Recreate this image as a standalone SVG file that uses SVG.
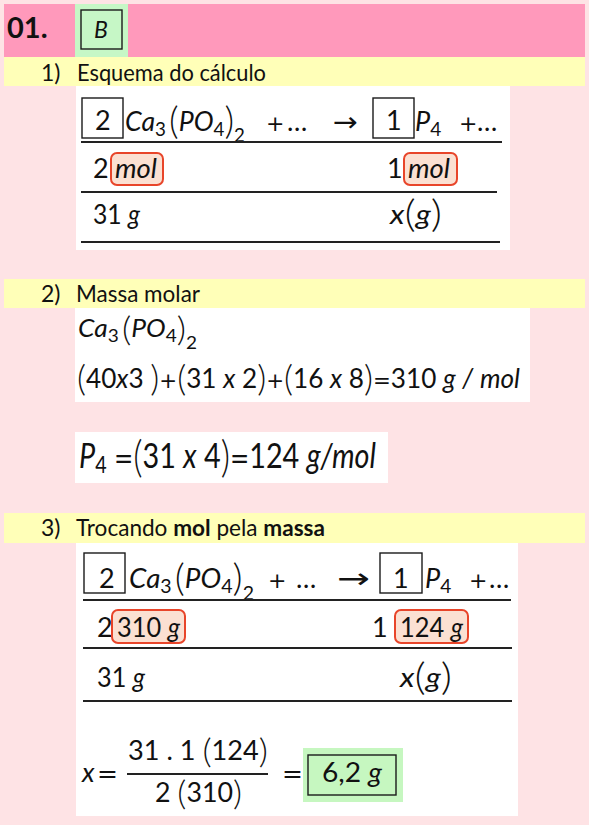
<svg xmlns="http://www.w3.org/2000/svg" width="589" height="825" viewBox="0 0 589 825">
<style>
.t{font-family:Lato,"Liberation Sans",sans-serif;fill:#111}
.h{font-size:23px}
.m{font-size:27px}
.i{font-style:italic}
.b{font-weight:bold}
.s{font-size:19px}
.p{font-size:38px;font-weight:300}
.l{font-weight:300}
.sym{font-family:"DejaVu Sans",sans-serif;font-style:normal}
.bx{fill:none;stroke:#1a1a1a;stroke-width:1.4}
.hl{fill:#FBE0D2;stroke:#E8452A;stroke-width:2}
.rule{stroke:#222;stroke-width:2}
.yel{fill:#FFFFB8}
.wh{fill:#FFFFFF}
</style>
<rect width="589" height="825" fill="#FEE3E5"/>

<g id="header">
<rect x="4" y="4" width="581" height="53" fill="#FF99BB"/>
<rect x="75" y="4" width="53" height="53" fill="#C6F7C6"/>
<rect class="bx" x="81" y="10" width="41" height="39"/>
<text class="t b" x="7" y="38" font-size="29">01.</text>
<text class="t i" x="94" y="38" font-size="23">B</text>
</g>

<g id="step1">
<rect class="yel" x="4" y="57" width="581" height="29"/>
<text class="t h" x="41" y="81">1)</text>
<text class="t h" x="77" y="81" textLength="189" lengthAdjust="spacingAndGlyphs">Esquema do cálculo</text>
<rect class="wh" x="76" y="86" width="434" height="164"/>
<rect class="bx" x="82" y="98" width="41" height="40"/>
<text class="t m" x="95" y="130">2</text>
<text class="t m" x="125" y="131" textLength="120" lengthAdjust="spacingAndGlyphs"><tspan class="i">Ca</tspan><tspan class="s" dy="5">3</tspan><tspan class="p" dy="-2" dx="3">(</tspan><tspan class="i" dy="-3">PO</tspan><tspan class="s" dy="5">4</tspan><tspan class="p" dy="-2">)</tspan><tspan class="s" dy="8">2</tspan></text>
<text class="t sym" x="266" y="131" font-size="22">+</text>
<text class="t m" x="287" y="131">…</text>
<text class="t sym" x="333" y="131" font-size="27" textLength="25" lengthAdjust="spacingAndGlyphs">→</text>
<rect class="bx" x="373" y="98" width="41" height="40"/>
<text class="t m" x="386" y="130">1</text>
<text class="t m" x="415" y="131"><tspan class="i">P</tspan><tspan class="s" dy="5">4</tspan></text>
<text class="t sym" x="459" y="131" font-size="22">+</text>
<text class="t m" x="477" y="131">…</text>
<line class="rule" x1="81" y1="142" x2="502" y2="142"/>
<text class="t m" x="93" y="178">2</text>
<rect class="hl" x="111" y="153" width="52" height="32" rx="6"/>
<text class="t m i" x="115" y="178" textLength="42" lengthAdjust="spacingAndGlyphs">mol</text>
<text class="t m" x="387" y="178">1</text>
<rect class="hl" x="404" y="153" width="53" height="32" rx="6"/>
<text class="t m i" x="408" y="178" textLength="42" lengthAdjust="spacingAndGlyphs">mol</text>
<line class="rule" x1="81" y1="192" x2="497" y2="192"/>
<text class="t m" x="93" y="224" textLength="47" lengthAdjust="spacingAndGlyphs">31 <tspan class="i">g</tspan></text>
<text class="t m" x="390" y="224" textLength="52" lengthAdjust="spacingAndGlyphs"><tspan class="i">x</tspan><tspan class="p" dy="3">(</tspan><tspan class="i" dy="-3">g</tspan><tspan class="p" dy="3">)</tspan></text>
<line class="rule" x1="81" y1="242" x2="500" y2="242"/>
</g>

<g id="step2">
<rect class="yel" x="4" y="279" width="581" height="29"/>
<text class="t h" x="41" y="302">2)</text>
<text class="t h" x="76" y="302" textLength="124" lengthAdjust="spacingAndGlyphs">Massa molar</text>
<rect class="wh" x="75" y="308" width="455" height="94"/>
<text class="t" x="78" y="337" font-size="25" textLength="119" lengthAdjust="spacingAndGlyphs"><tspan class="i">Ca</tspan><tspan font-size="18" dy="5">3</tspan><tspan class="l" font-size="34" dy="-1" dx="3">(</tspan><tspan class="i" dy="-4">PO</tspan><tspan font-size="18" dy="5">4</tspan><tspan class="l" font-size="34" dy="-1">)</tspan><tspan font-size="18" dy="8">2</tspan></text>
<text class="t" x="77" y="388" font-size="27" textLength="443" lengthAdjust="spacingAndGlyphs"><tspan class="l" font-size="36" dy="3">(</tspan><tspan dy="-3">40</tspan><tspan class="i">x</tspan>3 <tspan class="l" font-size="36" dy="3">)</tspan><tspan class="sym" font-size="22" dy="-3">+</tspan><tspan class="l" font-size="36" dy="3">(</tspan><tspan dy="-3">31 </tspan><tspan class="i">x</tspan> 2<tspan class="l" font-size="36" dy="3">)</tspan><tspan class="sym" font-size="22" dy="-3">+</tspan><tspan class="l" font-size="36" dy="3">(</tspan><tspan dy="-3">16 </tspan><tspan class="i">x</tspan> 8<tspan class="l" font-size="36" dy="3">)</tspan><tspan class="sym" font-size="22" dy="-3">=</tspan>310 <tspan class="i">g</tspan> <tspan class="i">/</tspan> <tspan class="i">mol</tspan></text>
<rect class="wh" x="75" y="432" width="313" height="51"/>
<text class="t" x="79" y="468" font-size="35" textLength="297" lengthAdjust="spacingAndGlyphs"><tspan class="i">P</tspan><tspan font-size="24" dy="5">4</tspan><tspan class="sym" font-size="28" dy="-5"> =</tspan><tspan class="l" font-size="44" dy="4">(</tspan><tspan dy="-4">31 </tspan><tspan class="i">x</tspan> 4<tspan class="l" font-size="44" dy="4">)</tspan><tspan class="sym" font-size="28" dy="-4">=</tspan>124 <tspan class="i">g</tspan><tspan class="i">/</tspan><tspan class="i">mol</tspan></text>
</g>

<g id="step3">
<rect class="yel" x="4" y="513" width="581" height="30"/>
<text class="t h" x="41" y="536">3)</text>
<text class="t h" x="76" y="536" textLength="249" lengthAdjust="spacingAndGlyphs">Trocando <tspan class="b">mol</tspan> pela <tspan class="b">massa</tspan></text>
<rect class="wh" x="76" y="543" width="442" height="273"/>
<rect class="bx" x="84" y="553" width="41" height="40"/>
<text class="t m" x="99" y="588">2</text>
<text class="t m" x="129" y="588" textLength="125" lengthAdjust="spacingAndGlyphs"><tspan class="i">Ca</tspan><tspan class="s" dy="5">3</tspan><tspan class="p" dy="-2" dx="3">(</tspan><tspan class="i" dy="-3">PO</tspan><tspan class="s" dy="5">4</tspan><tspan class="p" dy="-2">)</tspan><tspan class="s" dy="9">2</tspan></text>
<text class="t sym" x="268" y="588" font-size="22">+</text>
<text class="t m" x="296" y="588">…</text>
<text class="t sym" x="337" y="588" font-size="28" textLength="33" lengthAdjust="spacingAndGlyphs">→</text>
<rect class="bx" x="380" y="553" width="42" height="40"/>
<text class="t m" x="393" y="588">1</text>
<text class="t m" x="425" y="588"><tspan class="i">P</tspan><tspan class="s" dy="5">4</tspan></text>
<text class="t sym" x="469" y="588" font-size="22">+</text>
<text class="t m" x="489" y="588">…</text>
<line class="rule" x1="83" y1="600" x2="511" y2="600"/>
<text class="t m" x="97" y="637">2</text>
<rect class="hl" x="112" y="610" width="73" height="33" rx="6"/>
<text class="t m" x="117" y="637" textLength="63" lengthAdjust="spacingAndGlyphs">310 <tspan class="i">g</tspan></text>
<text class="t m" x="372" y="637">1</text>
<rect class="hl" x="395" y="610" width="73" height="33" rx="6"/>
<text class="t m" x="400" y="637" textLength="63" lengthAdjust="spacingAndGlyphs">124 <tspan class="i">g</tspan></text>
<line class="rule" x1="83" y1="648" x2="512" y2="648"/>
<text class="t m" x="97" y="687" textLength="48" lengthAdjust="spacingAndGlyphs">31 <tspan class="i">g</tspan></text>
<text class="t m" x="400" y="687" textLength="52" lengthAdjust="spacingAndGlyphs"><tspan class="i">x</tspan><tspan class="p" dy="3">(</tspan><tspan class="i" dy="-3">g</tspan><tspan class="p" dy="3">)</tspan></text>
<line class="rule" x1="83" y1="701" x2="512" y2="701"/>

<text class="t i" x="82" y="782" font-size="27">x</text>
<text class="t sym" x="97" y="782" font-size="25">=</text>
<text class="t" x="128" y="760" font-size="26" textLength="140" lengthAdjust="spacingAndGlyphs">31 . 1 <tspan class="l" font-size="34" dy="3">(</tspan><tspan dy="-3">124</tspan><tspan class="l" font-size="34" dy="3">)</tspan></text>
<line class="rule" x1="127" y1="774" x2="268" y2="774" stroke-width="1.5"/>
<text class="t" x="155" y="802" font-size="26" textLength="87" lengthAdjust="spacingAndGlyphs">2 <tspan class="l" font-size="34" dy="3">(</tspan><tspan dy="-3">310</tspan><tspan class="l" font-size="34" dy="3">)</tspan></text>
<text class="t sym" x="282" y="782" font-size="25">=</text>
<rect x="303" y="748" width="100" height="54" fill="#C6F7C0"/>
<rect class="bx" x="308" y="755" width="88" height="40"/>
<text class="t" x="322" y="782" font-size="27" textLength="60" lengthAdjust="spacingAndGlyphs">6,2 <tspan class="i">g</tspan></text>
</g>
</svg>
